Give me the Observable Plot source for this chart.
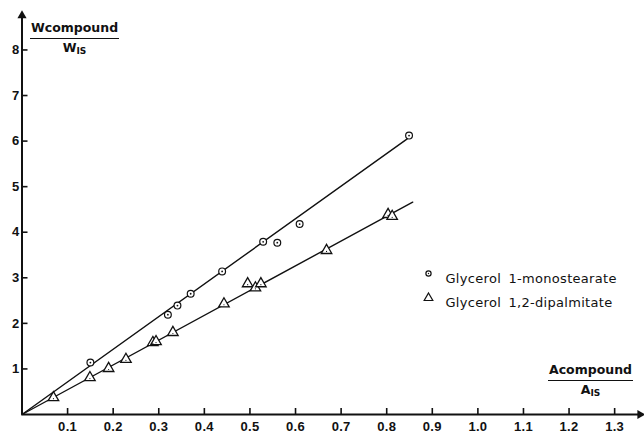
<!DOCTYPE html>
<html><head><meta charset="utf-8">
<script src="https://cdn.jsdelivr.net/npm/d3@7"></script>
<script src="https://cdn.jsdelivr.net/npm/@observablehq/plot@0.6"></script>
<style>
body{margin:0;background:#fff}
#wrap{position:relative;width:644px;height:433px;color:#111}
#wrap svg{word-spacing:3px;letter-spacing:0.3px}
.frac{position:absolute;text-align:center;font-family:"DejaVu Sans",sans-serif;font-size:12.5px;font-weight:bold;line-height:1;color:#111}
.frac .num{border-bottom:1.6px solid #111;padding:0 1px 3px}
.frac .den{padding-top:3px}
.frac sub{font-size:9px;vertical-align:-2px;font-weight:bold}
</style></head><body><div id="wrap">
<div class="frac" style="left:30px;top:22px;"><div class="num">Wcompound</div><div class="den">W<sub>IS</sub></div></div>
<div class="frac" style="left:548px;top:364px;"><div class="num">Acompound</div><div class="den">A<sub>IS</sub></div></div>
</div>
<script>
// ---- data ----
const xTicks = [0.1,0.2,0.3,0.4,0.5,0.6,0.7,0.8,0.9,1.0,1.1,1.2,1.3];
const yTicks = [1,2,3,4,5,6,7,8];
const xDomain = [0, 1.36];
const yDomain = [0, 8.8];
const seriesNames = ["Glycerol 1-monostearate", "Glycerol 1,2-dipalmitate"];
const monoX = [0.15,0.32,0.341,0.37,0.439,0.529,0.56,0.609,0.849];
const monoY = [1.14,2.19,2.39,2.65,3.14,3.79,3.77,4.18,6.12];
const dipX = [0.069,0.149,0.19,0.228,0.287,0.294,0.331,0.443,0.495,0.512,0.524,0.668,0.803,0.812];
const dipY = [0.37,0.81,1.01,1.21,1.58,1.60,1.80,2.43,2.87,2.78,2.87,3.60,4.39,4.35];
const fitX = [0, 0.845, 0.857];
const monoFitY = [0, 6.05];
const dipFitY = [0, 4.66];

const mono = monoX.map((x,i)=>({x, y: monoY[i]}));
const dip = dipX.map((x,i)=>({x, y: dipY[i]}));
const monoFit = [{x: fitX[0], y: monoFitY[0]}, {x: fitX[1], y: monoFitY[1]}];
const dipFit = [{x: fitX[0], y: dipFitY[0]}, {x: fitX[2], y: dipFitY[1]}];

const W = 644, H = 433, mL = 21.5, mR = 2.5, mT = 13, mB = 19;
const ink = "#111";
const chart = Plot.plot({
  width: W, height: H,
  marginLeft: mL, marginRight: mR, marginTop: mT, marginBottom: mB,
  style: {fontFamily: "DejaVu Sans, sans-serif", background: "#fff", color: ink},
  x: {domain: xDomain},
  y: {domain: yDomain},
  marks: [
    // axes lines with arrows
    Plot.ruleY([yDomain[0]], {x1: xDomain[0], x2: xDomain[1], stroke: ink, strokeWidth: 2}),
    Plot.ruleX([xDomain[0]], {y1: yDomain[0], y2: yDomain[1], stroke: ink, strokeWidth: 2}),
    Plot.dot([xDomain[1]], {x: d => d, y: yDomain[0], symbol: "triangle", rotate: 90, r: 3.4, fill: ink, dx: -2}),
    Plot.dot([yDomain[1]], {x: xDomain[0], y: d => d, symbol: "triangle", r: 3.4, fill: ink, dy: 2}),
    // tick marks (inside the frame)
    Plot.tickX(xTicks, {x: d => d, insetTop: (H - mT - mB) - 6, stroke: ink, strokeWidth: 1.6}),
    Plot.tickY(yTicks, {y: d => d, insetRight: (W - mL - mR) - 6, stroke: ink, strokeWidth: 1.6}),
    // tick labels
    Plot.axisX({ticks: xTicks, tickSize: 0, tickPadding: 7, tickFormat: d3.format(".1f"), fontSize: 13, fontWeight: "bold", fontFamily: "Liberation Sans, sans-serif", label: null}),
    Plot.axisY({ticks: yTicks, tickSize: 0, tickPadding: 2.5, tickFormat: d3.format("d"), fontSize: 13, fontWeight: "bold", fontFamily: "Liberation Sans, sans-serif", label: null}),
    // fit lines
    Plot.line(monoFit, {x: "x", y: "y", stroke: ink, strokeWidth: 1.4}),
    Plot.line(dipFit, {x: "x", y: "y", stroke: ink, strokeWidth: 1.4}),
    // points
    Plot.dot(mono, {x: "x", y: "y", r: 3.4, stroke: ink, strokeWidth: 1.2, fill: "#fff"}),
    Plot.dot(mono, {x: "x", y: "y", r: 0.9, fill: ink}),
    Plot.dot(dip, {x: "x", y: "y", symbol: "triangle", r: 3.9, stroke: ink, strokeWidth: 1.3, fill: "#fff"}),
    Plot.dot(dip, {x: "x", y: "y", r: 0.6, fill: ink, dy: 1}),
    // legend
    Plot.dot([seriesNames[0]], {frameAnchor: "top-left", dx: 406.5, dy: 260, r: 2.6, stroke: ink, strokeWidth: 1.2}),
    Plot.dot([seriesNames[0]], {frameAnchor: "top-left", dx: 406.5, dy: 260, r: 0.7, fill: ink}),
    Plot.dot([seriesNames[1]], {frameAnchor: "top-left", dx: 406.5, dy: 284.5, symbol: "triangle", r: 3.2, stroke: ink, strokeWidth: 1.2}),
    Plot.text([seriesNames[0]], {frameAnchor: "top-left", dx: 423.5, dy: 260, text: d => d, fontSize: 13, fill: ink, textAnchor: "start", letterSpacing: 0.5}),
    Plot.text([seriesNames[1]], {frameAnchor: "top-left", dx: 423.5, dy: 284, text: d => d, fontSize: 13, fill: ink, textAnchor: "start"})
  ]
});
document.getElementById("wrap").appendChild(chart);
</script>
</body></html>
